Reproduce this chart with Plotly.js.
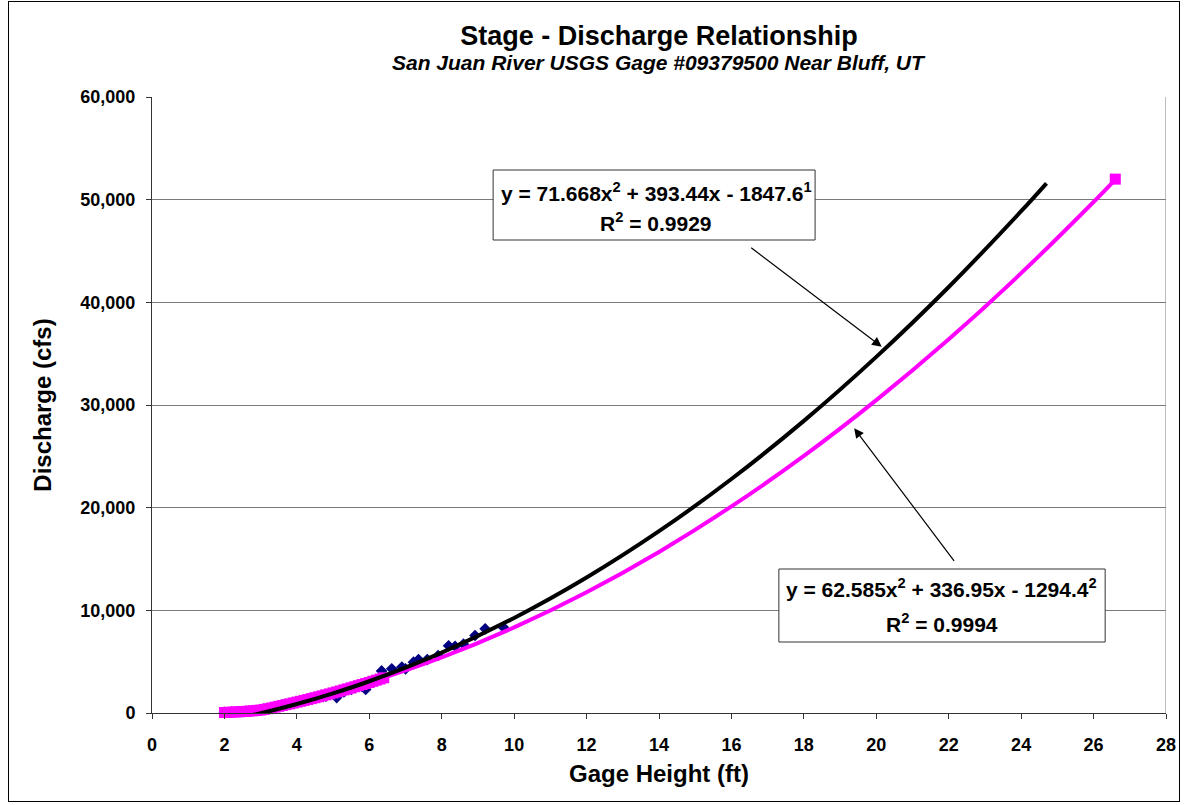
<!DOCTYPE html>
<html>
<head>
<meta charset="utf-8">
<script src="https://cdn.plot.ly/plotly-3.0.1.min.js"></script>
<style>
  html, body { margin: 0; padding: 0; background: #fff; }
  #wrap { position: relative; width: 1185px; height: 805px; }
  #chart { width: 1185px; height: 805px; }
  #frame { position: absolute; left: 8px; top: 1px; width: 1172px; height: 801px;
           border: 1px solid #000; pointer-events: none; box-sizing: border-box; }
</style>
</head>
<body>
<div id="wrap"><div id="chart"></div><div id="frame"></div></div>
<script>
// Observed gage readings (blue diamonds)
const observedStage = [2.0, 2.2, 2.4, 2.6, 2.8, 3.0, 3.2, 3.4, 3.6, 3.8, 4.0, 4.2, 4.4, 4.6, 4.8, 5.0, 5.1, 5.3, 5.5, 5.6, 5.8, 5.9, 6.1, 6.3, 6.34, 6.62, 6.9, 7.0, 7.22, 7.36, 7.6, 7.9, 8.19, 8.37, 8.6, 8.92, 9.2, 9.7];
const observedFlow  = [60, 90, 130, 170, 230, 300, 440, 620, 780, 940, 1060, 1230, 1380, 1530, 1650, 1850, 1500, 2050, 2300, 2450, 2600, 2300, 3000, 3400, 4100, 4300, 4480, 4300, 4950, 5200, 5200, 5600, 6550, 6500, 6700, 7550, 8200, 8350];

// USGS rating table points (magenta squares)
const ratingStage = [2.0, 2.1, 2.2, 2.3, 2.4, 2.5, 2.6, 2.7, 2.8, 2.9, 3.0, 3.1, 3.2, 3.3, 3.4, 3.5, 3.6, 3.7, 3.8, 3.9, 4.0, 4.1, 4.2, 4.3, 4.4, 4.5, 4.6, 4.7, 4.8, 4.9, 5.0, 5.1, 5.2, 5.3, 5.4, 5.5, 5.6, 5.7, 5.8, 5.9, 6.0, 6.1, 6.2, 6.3, 6.4, 26.6];
const ratingFlow  = [50, 65, 80, 100, 120, 140, 160, 190, 220, 250, 290, 350, 420, 490, 570, 650, 730, 810, 890, 970, 1060, 1140, 1230, 1310, 1400, 1490, 1580, 1670, 1770, 1860, 1960, 2050, 2150, 2250, 2350, 2450, 2560, 2660, 2770, 2870, 2980, 3090, 3200, 3310, 3430, 52000];

// Trend line of observed data (black)
const trend1Stage = [2, 3, 4, 5, 6, 8, 10, 12, 14, 16, 18, 20, 22, 24, 24.7];
const trend1Flow  = [-774, -22, 873, 1911, 3093, 5887, 9254, 13194, 17707, 22794, 28454, 34688, 41495, 48876, 51594];

// Trend line of rating table (magenta)
const trend2Stage = [2, 3, 4, 5, 6, 8, 10, 12, 14, 16, 18, 20, 22, 24, 26, 26.6];
const trend2Flow  = [-370, 280, 1055, 1955, 2980, 5407, 8334, 11761, 15690, 20119, 25049, 30479, 36410, 42842, 49774, 51951];

const xTicks = [0, 2, 4, 6, 8, 10, 12, 14, 16, 18, 20, 22, 24, 26, 28];
const yTicks = [0, 10000, 20000, 30000, 40000, 50000, 60000];

const eq1 = ["y = 71.668x<sup>2</sup> + 393.44x - 1847.6<sup>1</sup>", "R<sup>2</sup> = 0.9929"];
const eq2 = ["y = 62.585x<sup>2</sup> + 336.95x - 1294.4<sup>2</sup>", "R<sup>2</sup> = 0.9994"];

const FONT = "Arial, 'Liberation Sans', sans-serif";

const traces = [
  { x: observedStage, y: observedFlow, type: 'scatter', mode: 'markers', name: 'Observed',
    marker: { symbol: 'diamond', size: 9, color: '#000080' } },
  { x: ratingStage, y: ratingFlow, type: 'scatter', mode: 'markers', name: 'Rating',
    marker: { symbol: 'square', size: 11, color: '#FF00FF' }, cliponaxis: false },
  { x: trend2Stage, y: trend2Flow, type: 'scatter', mode: 'lines', name: 'Rating trend',
    line: { color: '#FF00FF', width: 4, shape: 'spline' } },
  { x: trend1Stage, y: trend1Flow, type: 'scatter', mode: 'lines', name: 'Observed trend',
    line: { color: '#000000', width: 4, shape: 'spline' } }
];

const layout = {
  width: 1185, height: 805,
  margin: { l: 152, r: 19, t: 97, b: 92 },
  paper_bgcolor: '#ffffff', plot_bgcolor: '#ffffff',
  showlegend: false,
  font: { family: FONT, color: '#000' },
  title: { text: '<b>Stage - Discharge Relationship</b>', font: { family: FONT, size: 27, color: '#000' },
           xref: 'paper', x: 0.5, xanchor: 'center', y: 1 - 36 / 805, yanchor: 'middle' },
  xaxis: {
    range: [0, 28], tickvals: xTicks, ticktext: xTicks.map(String),
    showgrid: false, zeroline: false, showline: true, linecolor: '#333', linewidth: 1,
    ticks: 'outside', ticklen: 5, tickcolor: '#333', ticklabelstandoff: 10,
    tickfont: { family: FONT, size: 18, color: '#000', weight: 'bold' },
    title: { text: '<b>Gage Height (ft)</b>', font: { family: FONT, size: 24, color: '#000' }, standoff: 11 }
  },
  yaxis: {
    range: [0, 60000], tickvals: yTicks, ticktext: yTicks.map(v => v.toLocaleString('en-US')),
    showgrid: true, gridcolor: '#7a7a7a', gridwidth: 1, zeroline: false,
    showline: true, linecolor: '#333', linewidth: 1,
    ticks: 'outside', ticklen: 5, tickcolor: '#333', ticklabelstandoff: 7,
    tickfont: { family: FONT, size: 18, color: '#000', weight: 'bold' },
    title: { text: '<b>Discharge (cfs)</b>', font: { family: FONT, size: 24, color: '#000' }, standoff: 21 }
  },
  shapes: [
    { type: 'line', xref: 'x', yref: 'y', x0: 28, x1: 28, y0: 0, y1: 60000,
      line: { color: '#7a7a7a', width: 1 } },
    { type: 'rect', xref: 'x', yref: 'y', x0: 9.42, x1: 18.31, y0: 46071, y1: 52890,
      fillcolor: '#ffffff', line: { color: '#333', width: 1 }, layer: 'above' },
    { type: 'rect', xref: 'x', yref: 'y', x0: 17.31, x1: 26.32, y0: 6916, y1: 14026,
      fillcolor: '#ffffff', line: { color: '#333', width: 1 }, layer: 'above' }
  ],
  annotations: [
    { text: '<b><i>San Juan River USGS Gage #09379500 Near Bluff, UT</i></b>', xref: 'paper', yref: 'paper',
      x: 0.5, y: (713 - 63) / 616, xanchor: 'center', yanchor: 'middle', showarrow: false,
      font: { family: FONT, size: 21, color: '#000' } },
    { text: '<b>' + eq1[0] + '</b>', x: 13.92, y: 50747, xref: 'x', yref: 'y', showarrow: false,
      xanchor: 'center', yanchor: 'middle', font: { family: FONT, size: 21, color: '#000' } },
    { text: '<b>' + eq1[1] + '</b>', x: 13.92, y: 47825, xref: 'x', yref: 'y', showarrow: false,
      xanchor: 'center', yanchor: 'middle', font: { family: FONT, size: 21, color: '#000' } },
    { text: '<b>' + eq2[0] + '</b>', x: 21.81, y: 12175, xref: 'x', yref: 'y', showarrow: false,
      xanchor: 'center', yanchor: 'middle', font: { family: FONT, size: 21, color: '#000' } },
    { text: '<b>' + eq2[1] + '</b>', x: 21.81, y: 8766, xref: 'x', yref: 'y', showarrow: false,
      xanchor: 'center', yanchor: 'middle', font: { family: FONT, size: 21, color: '#000' } },
    { text: '', x: 20.15, y: 35680, xref: 'x', yref: 'y', ax: -132, ay: -100,
      showarrow: true, arrowhead: 2, arrowsize: 1.6, arrowwidth: 1.2, arrowcolor: '#000' },
    { text: '', x: 19.39, y: 27730, xref: 'x', yref: 'y', ax: 101, ay: 134,
      showarrow: true, arrowhead: 2, arrowsize: 1.6, arrowwidth: 1.2, arrowcolor: '#000' }
  ]
};

Plotly.newPlot('chart', traces, layout, { displayModeBar: false, staticPlot: true });
</script>
</body>
</html>
